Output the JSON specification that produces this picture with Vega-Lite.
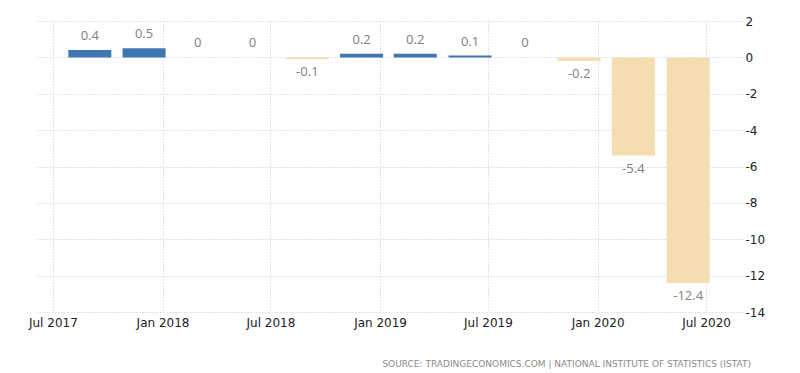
{
  "$schema": "https://vega.github.io/schema/vega-lite/v6.json",
  "autosize": {"type": "none"},
  "width": 708,
  "height": 291,
  "padding": {"left": 35, "top": 21, "right": 57, "bottom": 61},
  "background": "white",
  "title": {
    "text": "SOURCE: TRADINGECONOMICS.COM | NATIONAL INSTITUTE OF STATISTICS (ISTAT)",
    "orient": "bottom",
    "anchor": "end",
    "frame": "group",
    "offset": 32,
    "dx": 8,
    "font": "DejaVu Sans",
    "fontSize": 9,
    "fontWeight": "normal",
    "color": "#8a8a8a"
  },
  "data": {
    "values": [
      {"date": "2017-09-01", "value": 0.4, "label": "0.4"},
      {"date": "2017-12-01", "value": 0.5, "label": "0.5"},
      {"date": "2018-03-01", "value": 0, "label": "0"},
      {"date": "2018-06-01", "value": 0, "label": "0"},
      {"date": "2018-09-01", "value": -0.1, "label": "-0.1"},
      {"date": "2018-12-01", "value": 0.2, "label": "0.2"},
      {"date": "2019-03-01", "value": 0.2, "label": "0.2"},
      {"date": "2019-06-01", "value": 0.1, "label": "0.1"},
      {"date": "2019-09-01", "value": 0, "label": "0"},
      {"date": "2019-12-01", "value": -0.2, "label": "-0.2"},
      {"date": "2020-03-01", "value": -5.4, "label": "-5.4"},
      {"date": "2020-06-01", "value": -12.4, "label": "-12.4"}
    ],
    "format": {"parse": {"date": "date:'%Y-%m-%d'"}}
  },
  "encoding": {
    "x": {
      "field": "date",
      "type": "temporal",
      "scale": {"domain": [{"year": 2017, "month": 6, "date": 1}, {"year": 2020, "month": 9, "date": 1}], "padding": 0, "nice": false},
      "axis": {
        "title": null,
        "values": [
          {"year": 2017, "month": 7, "date": 1},
          {"year": 2018, "month": 1, "date": 1},
          {"year": 2018, "month": 7, "date": 1},
          {"year": 2019, "month": 1, "date": 1},
          {"year": 2019, "month": 7, "date": 1},
          {"year": 2020, "month": 1, "date": 1},
          {"year": 2020, "month": 7, "date": 1}
        ],
        "format": "%b %Y",
        "domain": false,
        "ticks": false,
        "grid": true,
        "gridColor": "#c8c8c8",
        "gridDash": [1, 2],
        "labelFont": "DejaVu Sans",
        "labelFontSize": 12,
        "labelColor": "#222",
        "labelPadding": 5,
        "labelFlush": false
      }
    },
    "y": {
      "field": "value",
      "type": "quantitative",
      "scale": {"domain": [-14, 2], "nice": false},
      "axis": {
        "title": null,
        "orient": "right",
        "values": [2, 0, -2, -4, -6, -8, -10, -12, -14],
        "labelExpr": "'' + datum.value",
        "domain": false,
        "ticks": false,
        "grid": true,
        "gridColor": "#c8c8c8",
        "gridDash": [1, 2],
        "labelFont": "DejaVu Sans",
        "labelFontSize": 12,
        "labelColor": "#222",
        "labelPadding": 2
      }
    }
  },
  "layer": [
    {
      "mark": {"type": "bar", "size": 43},
      "encoding": {
        "y2": {"datum": 0},
        "color": {
          "condition": {"test": "datum.value >= 0", "value": "#3f77b3"},
          "value": "#f4ddb1"
        }
      }
    },
    {
      "transform": [{"filter": "datum.value >= 0"}],
      "mark": {"type": "text", "baseline": "bottom", "dy": -7, "font": "Open Sans", "fontSize": 13, "color": "#808080"},
      "encoding": {"text": {"field": "label"}}
    },
    {
      "transform": [{"filter": "datum.value < 0"}],
      "mark": {"type": "text", "baseline": "top", "dy": 7, "font": "Open Sans", "fontSize": 13, "color": "#808080"},
      "encoding": {"text": {"field": "label"}}
    }
  ],
  "config": {"view": {"stroke": null}}
}
